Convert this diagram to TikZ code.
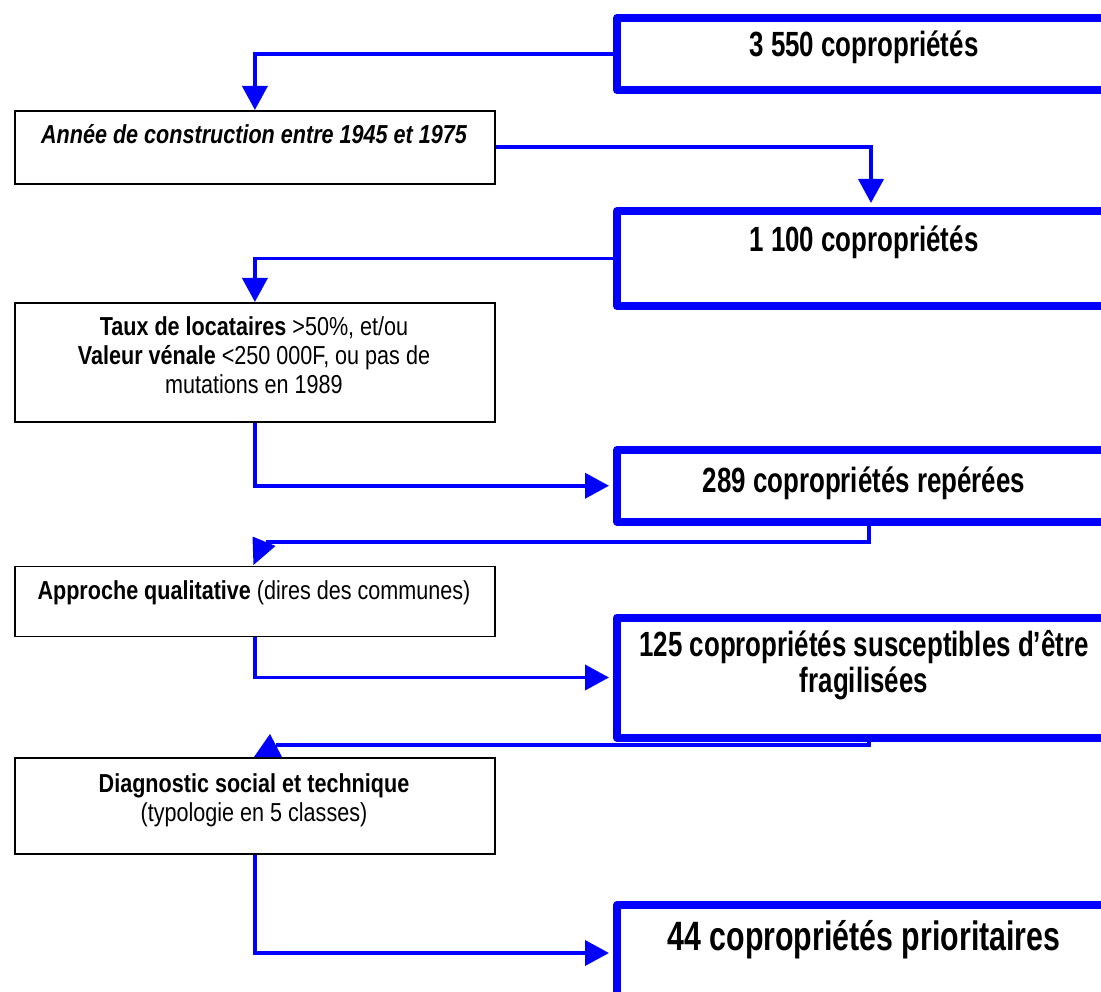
\documentclass[tikz,border=0pt]{standalone}
\usepackage{fontspec}
\setmainfont{Liberation Sans}
\newfontfamily\bigfont{Liberation Sans}[FakeStretch=0.74]
\newfontfamily\smallfont{Liberation Sans}[FakeStretch=0.83]
\usetikzlibrary{arrows.meta}
\definecolor{pblue}{RGB}{0,0,255}
\begin{document}
\begin{tikzpicture}[x=1pt,y=-1pt,
 bluebox/.style={draw=pblue, line width=8pt, line join=round, rectangle, inner sep=0pt, anchor=north west, minimum width=495pt},
 blackbox/.style={draw=black, line width=1.8pt, rectangle, inner sep=0pt, anchor=north west, minimum width=480pt},
 conn/.style={draw=pblue, line width=3.8pt, -{Triangle[length=24pt,width=25pt]}},
 connplain/.style={draw=pblue, line width=3.8pt},
 bigtxt/.style={font=\bigfont\bfseries\fontsize{35}{42}\selectfont, anchor=base, inner sep=0pt},
 smalltxt/.style={font=\smallfont\fontsize{26}{31}\selectfont, anchor=base, inner sep=0pt},
]
\useasboundingbox (0,0) rectangle (1101,992);
\fill[white] (0,0) rectangle (1101,992);
\clip (0,0) rectangle (1101,992);

% boxes
\node[bluebox, minimum height=72pt] (b1) at (613,14) {};
\node[blackbox, minimum height=73pt] (t2) at (14,110) {};
\node[bluebox, minimum height=95pt] (b3) at (613,207) {};
\node[blackbox, minimum height=119pt] (t4) at (14,302) {};
\node[bluebox, minimum height=71.5pt] (b5) at (613,446) {};
\node[blackbox, minimum height=70pt] (t6) at (14,565.5) {};
\node[bluebox, minimum height=120pt] (b7) at (613,613.5) {};
\node[blackbox, minimum height=96pt] (t8) at (14,757) {};
\node[bluebox, minimum height=96pt] (b9) at (613,901) {};

% texts
\node[bigtxt] (l1) at (864,56.5) {3 550 copropriétés};
\node[smalltxt, font=\smallfont\bfseries\itshape\fontsize{26}{31}\selectfont] (l2) at (254,144) {Année de construction entre 1945 et 1975};
\node[bigtxt] (l3) at (864,252) {1 100 copropriétés};
\node[smalltxt] (l4a) at (254,335.5) {\textbf{Taux de locataires} >50\%, et/ou};
\node[smalltxt] (l4b) at (254,365) {\textbf{Valeur vénale} <250 000F, ou pas de};
\node[smalltxt] (l4c) at (254,393) {mutations en 1989};
\node[bigtxt] (l5) at (864,492) {289 copropriétés repérées};
\node[smalltxt] (l6) at (254,599) {\textbf{Approche qualitative} (dires des communes)};
\node[bigtxt] (l7a) at (864,656) {125 copropriétés susceptibles d’être};
\node[bigtxt] (l7b) at (864,692) {fragilisées};
\node[smalltxt] (l8a) at (254,792) {\textbf{Diagnostic social et technique}};
\node[smalltxt] (l8b) at (254,821) {(typologie en 5 classes)};
\node[bigtxt, font=\bigfont\bfseries\fontsize{41}{49}\selectfont] (l9) at (864,950) {44 copropriétés prioritaires};

% connectors
\draw[conn] (b1.west) -| (t2.north);
\draw[conn, shorten >=4pt] (t2.east) -| ([xshift=6.5pt]b3.north);
\draw[conn] (b3.west) -| (t4.north);
\draw[conn, shorten >=4pt] (t4.south) |- (b5.west);
\coordinate (k5) at (266,542);
\draw[connplain] ([xshift=4.5pt]b5.south) |- (k5);
\fill[pblue] (252.5,536.5) -- (253.5,565) -- (275.5,546) -- cycle;
\draw[conn, shorten >=4pt] (t6.south) |- (b7.west);
\coordinate (k7) at (276,745);
\draw[connplain] ([xshift=4.5pt]b7.south) |- (k7);
\fill[pblue] (270,734) -- (254,757) -- (282,757) -- cycle;
\draw[conn, shorten >=4pt] (t8.south) |- (b9.west);
\end{tikzpicture}
\end{document}
